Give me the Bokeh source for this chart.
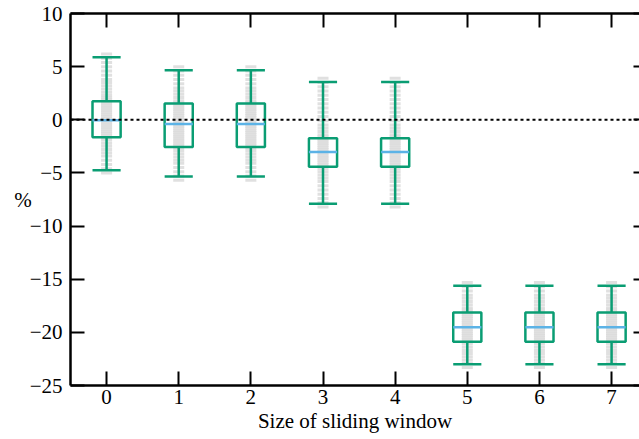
from bokeh.plotting import figure
from bokeh.models import ColumnDataSource, FixedTicker, LinearAxis, Span, Range1d
from bokeh.embed import file_html
from bokeh.resources import INLINE

# ---- data ----
windows = [0, 1, 2, 3, 4, 5, 6, 7]
tick_labels = ["0", "1", "2", "3", "4", "5", "6", "7"]
q1 = [-1.64, -2.55, -2.55, -4.43, -4.43, -20.89, -20.89, -20.89]
q3 = [1.75, 1.53, 1.53, -1.73, -1.73, -18.12, -18.12, -18.12]
medians = [-0.04, -0.39, -0.39, -3.02, -3.02, -19.53, -19.53, -19.53]
whisker_lo = [-4.74, -5.33, -5.33, -7.91, -7.91, -23.01, -23.01, -23.01]
whisker_hi = [5.89, 4.66, 4.66, 3.56, 3.56, -15.62, -15.62, -15.62]

pts_w0 = [6.2, 5.8, 5.4, 5.0, 4.6, 4.2, 3.8, 3.5, 3.2, 2.9, 2.6, 2.3, 2.1, 1.9,
          1.7, 1.5, 1.3, 1.1, 0.9, 0.7, 0.5, 0.3, 0.1, -0.1, -0.3, -0.5, -0.7,
          -0.9, -1.1, -1.3, -1.5, -1.7, -1.9, -2.2, -2.5, -2.8, -3.1, -3.4,
          -3.8, -4.2, -4.6, -5.0]
pts_w12 = [5.0, 4.6, 4.2, 3.8, 3.4, 3.0, 2.7, 2.4, 2.1, 1.8, 1.6, 1.4, 1.2, 1.0,
           0.8, 0.6, 0.4, 0.2, 0.0, -0.2, -0.4, -0.6, -0.8, -1.0, -1.2, -1.4,
           -1.6, -1.8, -2.0, -2.2, -2.4, -2.6, -2.9, -3.2, -3.5, -3.8, -4.1,
           -4.5, -4.9, -5.3, -5.7]
pts_w34 = [3.9, 3.5, 3.1, 2.7, 2.3, 1.9, 1.5, 1.1, 0.7, 0.3, -0.1, -0.5, -0.8,
           -1.1, -1.4, -1.6, -1.8, -2.0, -2.2, -2.4, -2.6, -2.8, -3.0, -3.2,
           -3.4, -3.6, -3.8, -4.0, -4.2, -4.4, -4.6, -4.9, -5.2, -5.5, -5.8,
           -6.2, -6.6, -7.0, -7.4, -7.8, -8.2]
pts_w567 = [-15.3, -15.7, -16.1, -16.5, -16.8, -17.1, -17.4, -17.7, -17.9,
            -18.1, -18.3, -18.5, -18.7, -18.9, -19.1, -19.3, -19.5, -19.7,
            -19.9, -20.1, -20.3, -20.5, -20.7, -20.9, -21.1, -21.4, -21.7,
            -22.0, -22.3, -22.6, -22.9, -23.3]
points_by_window = [pts_w0, pts_w12, pts_w12, pts_w34, pts_w34,
                    pts_w567, pts_w567, pts_w567]
reference_level = 0
y_ticks = [-25, -20, -15, -10, -5, 0, 5, 10]

# ---- styles ----
GREEN = "#0a9d73"
BLUE = "#5cb3e6"
GRAY = "#dadada"
FONT = "Liberation Serif"
FS = "21px"
box_w = 0.39

p = figure(width=639, height=439, output_backend="svg", toolbar_location=None,
           x_range=Range1d(-0.5, 7.387), y_range=Range1d(-25, 10),
           min_border_left=70, min_border_right=0, min_border_top=13,
           min_border_bottom=54, x_axis_label="Size of sliding window",
           y_axis_label="%")
p.outline_line_color = None
p.xgrid.visible = False
p.ygrid.visible = False
p.background_fill_color = "white"
p.border_fill_color = "white"

# gray points
px, py = [], []
for w, pts in zip(windows, points_by_window):
    for v in pts:
        px.append(w)
        py.append(v)
p.scatter(x=px, y=py, marker="dash", size=11, line_width=3, line_color=GRAY,
          line_alpha=0.85)

src = ColumnDataSource(dict(
    x=windows, q1=q1, q3=q3, med=medians, lo=whisker_lo, hi=whisker_hi,
    xl=[w - box_w / 2 for w in windows], xr=[w + box_w / 2 for w in windows]))

# zero reference
p.add_layout(Span(location=reference_level, dimension="width",
                  line_color="black", line_width=2, line_dash="3 3"))

# whiskers
p.segment(x0="x", y0="q3", x1="x", y1="hi", source=src, line_color=GREEN,
          line_width=2.5)
p.segment(x0="x", y0="q1", x1="x", y1="lo", source=src, line_color=GREEN,
          line_width=2.5)
p.segment(x0="xl", y0="hi", x1="xr", y1="hi", source=src, line_color=GREEN,
          line_width=2.5)
p.segment(x0="xl", y0="lo", x1="xr", y1="lo", source=src, line_color=GREEN,
          line_width=2.5)
# boxes
p.quad(left="xl", right="xr", bottom="q1", top="q3", source=src,
       fill_color=None, line_color=GREEN, line_width=2.5)
# medians
p.segment(x0="xl", y0="med", x1="xr", y1="med", source=src, line_color=BLUE,
          line_width=2.5)

xt = FixedTicker(ticks=windows)
yt = FixedTicker(ticks=y_ticks)
y_over = {t: (("\u2212" + str(abs(t))) if t < 0 else str(t)) for t in y_ticks}
x_over = {w: l for w, l in zip(windows, tick_labels)}


def style(ax, labels=True):
    ax.axis_line_width = 2.5
    ax.axis_line_color = "black"
    ax.major_tick_line_width = 2
    ax.major_tick_line_color = "black"
    ax.major_tick_in = 14
    ax.major_tick_out = 0
    ax.minor_tick_line_color = None
    ax.major_label_text_font = FONT
    ax.major_label_text_font_size = FS
    ax.major_label_text_color = "black"
    if not labels:
        ax.major_label_text_alpha = 0
    ax.axis_label_text_font = FONT
    ax.axis_label_text_font_size = FS
    ax.axis_label_text_font_style = "normal"
    ax.axis_label_text_color = "black"


xa = p.xaxis[0]
xa.ticker = xt
xa.major_label_overrides = x_over
style(xa)
xa.major_label_standoff = 4
xa.axis_label_standoff = 2

ya = p.yaxis[0]
ya.ticker = yt
ya.major_label_overrides = y_over
style(ya)
ya.major_label_standoff = 8
ya.axis_label_orientation = "horizontal"
ya.axis_label_standoff = -5

top = LinearAxis(ticker=xt, major_label_overrides={w: "" for w in windows})
style(top, labels=False)
top.major_label_standoff = 0
p.add_layout(top, "above")

right = LinearAxis(ticker=yt, major_label_overrides={t: "" for t in y_ticks})
style(right, labels=False)
right.major_label_standoff = 0
right.axis_line_alpha = 0
right.major_tick_in = 6
p.add_layout(right, "right")

open("out.html", "w").write(file_html(p, INLINE))
